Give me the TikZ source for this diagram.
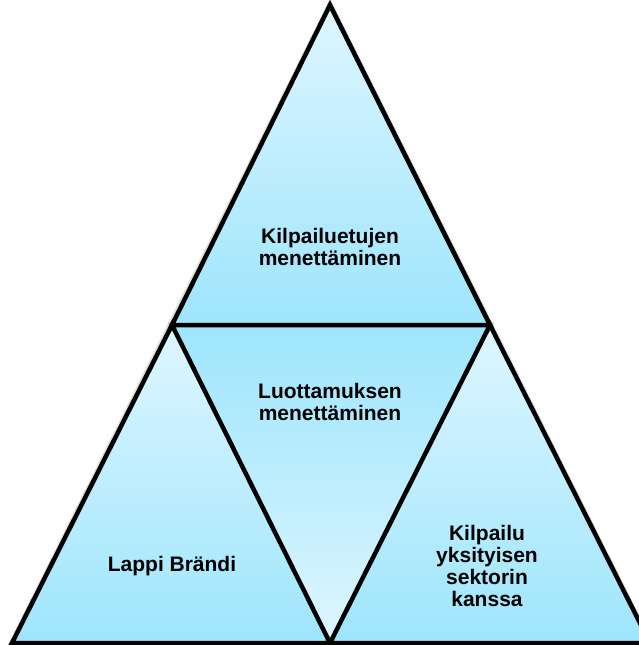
\documentclass[tikz,border=0pt]{standalone}
\usepackage{fontspec}
\setmainfont{Liberation Sans}
\usepackage{xcolor}
\usepackage{tikz}
\usetikzlibrary{calc}
\definecolor{paleblue}{RGB}{222,246,255}
\definecolor{deepblue}{RGB}{158,229,252}

\tikzset{
    part/.style={line width=4.5pt, line join=miter, miter limit=20},
    upshade/.style={shading=axis, top color=paleblue, bottom color=deepblue},
    downshade/.style={shading=axis, top color=deepblue, bottom color=paleblue},
    label/.style={font=\bfseries\fontsize{21}{22}\selectfont, align=center, text=black}
}

\begin{document}
\begin{tikzpicture}[x=1pt, y=-1pt]
        \useasboundingbox (0,0) rectangle (639,645);

        % corners
        \coordinate (top) at (330,5);
        \coordinate (midL) at (172,325);
        \coordinate (midR) at (490,325);
        \coordinate (baseL) at (12,643);
        \coordinate (baseM) at (330,643);
        \coordinate (baseR) at (650,643);

        % soft shadow
        \begin{scope}[shift={(-3,2)}]
            \draw[line width=6pt, black, opacity=0.12] (top) -- (baseL) -- (baseR) -- cycle;
            \draw[line width=6pt, black, opacity=0.12] (midL) -- (midR) -- (baseM) -- cycle;
        \end{scope}

        \fill[upshade] (top) -- (midL) -- (midR) -- cycle;
        \fill[upshade] (midL) -- (baseL) -- (baseM) -- cycle;
        \fill[upshade] (midR) -- (baseM) -- (baseR) -- cycle;
        \fill[downshade] (midL) -- (midR) -- (baseM) -- cycle;

        \draw[part] (top) -- (midL) -- (midR) -- cycle;
        \draw[part] (midL) -- (baseL) -- (baseM) -- cycle;
        \draw[part] (midR) -- (baseM) -- (baseR) -- cycle;

        \node[label] (edge) at (330,247) {Kilpailuetujen\\menettäminen};
        \node[label] (trust) at (330,402) {Luottamuksen\\menettäminen};
        \node[label] (brand) at (172,566) {Lappi Brändi};
        \node[label] (rivals) at (487,566) {Kilpailu\\yksityisen\\sektorin\\kanssa};

    \end{tikzpicture}
\end{document}
